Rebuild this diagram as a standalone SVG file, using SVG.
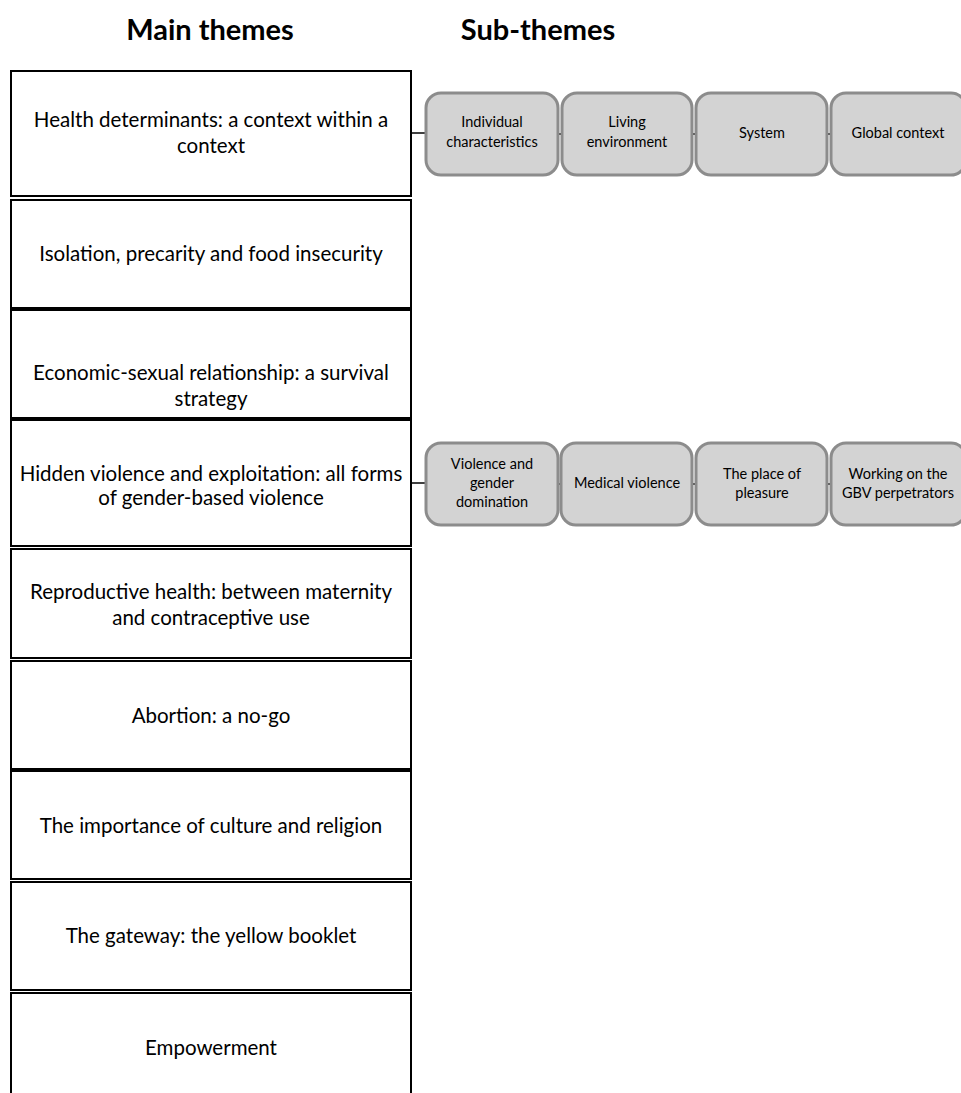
<svg xmlns="http://www.w3.org/2000/svg" width="961" height="1093" viewBox="0 0 961 1093">
<style>
.hdr{font-family:Lato,"Liberation Sans",sans-serif;font-weight:bold;font-size:29px;fill:#000;text-anchor:middle}
.main rect{fill:#fff;stroke:#000;stroke-width:2}
.main text{font-family:Lato,"Liberation Sans",sans-serif;font-size:20.5px;fill:#000;text-anchor:middle}
.sub rect{fill:#d3d3d3;stroke:#8c8c8c;stroke-width:3}
.sub text{font-family:Lato,"Liberation Sans",sans-serif;font-size:14.5px;fill:#000;text-anchor:middle}
.conn line{stroke:#000;stroke-width:1.5}
</style>
<rect width="961" height="1093" fill="#fff"/>
<text class="hdr" x="210" y="40">Main themes</text>
<text class="hdr" x="538" y="40">Sub-themes</text>

<g id="m1" class="main"><rect x="11" y="71" width="400" height="125"/><text x="211" y="127">Health determinants: a context within a</text><text x="211" y="153">context</text></g>
<g id="m2" class="main"><rect x="11" y="200" width="400" height="108"/><text x="211" y="261">Isolation, precarity and food insecurity</text></g>
<g id="m3" class="main"><rect x="11" y="310" width="400" height="108"/><text x="211" y="380">Economic-sexual relationship: a survival</text><text x="211" y="406">strategy</text></g>
<g id="m4" class="main"><rect x="11" y="420" width="400" height="126"/><text x="211" y="481">Hidden violence and exploitation: all forms</text><text x="211" y="505">of gender-based violence</text></g>
<g id="m5" class="main"><rect x="11" y="549" width="400" height="109"/><text x="211" y="599">Reproductive health: between maternity</text><text x="211" y="625">and contraceptive use</text></g>
<g id="m6" class="main"><rect x="11" y="661" width="400" height="108"/><text x="211" y="723">Abortion: a no-go</text></g>
<g id="m7" class="main"><rect x="11" y="771" width="400" height="108"/><text x="211" y="833">The importance of culture and religion</text></g>
<g id="m8" class="main"><rect x="11" y="882" width="400" height="108"/><text x="211" y="943">The gateway: the yellow booklet</text></g>
<g id="m9" class="main"><rect x="11" y="993" width="400" height="110"/><text x="211" y="1055">Empowerment</text></g>

<g id="connectors" class="conn">
<line x1="411" y1="133" x2="426" y2="133"/>
<line x1="558" y1="134" x2="562" y2="134"/>
<line x1="692" y1="134" x2="696" y2="134"/>
<line x1="827" y1="134" x2="831" y2="134"/>
<line x1="411" y1="483" x2="426" y2="483"/>
<line x1="558" y1="484" x2="561" y2="484"/>
<line x1="692" y1="484" x2="696" y2="484"/>
<line x1="827" y1="484" x2="831" y2="484"/>
</g>

<g id="s1" class="sub"><rect x="426" y="93" width="132" height="82" rx="15"/><text x="492" y="127">Individual</text><text x="492" y="147">characteristics</text></g>
<g id="s2" class="sub"><rect x="562" y="93" width="130" height="82" rx="15"/><text x="627" y="127">Living</text><text x="627" y="147">environment</text></g>
<g id="s3" class="sub"><rect x="696" y="93" width="131" height="82" rx="15"/><text x="762" y="138">System</text></g>
<g id="s4" class="sub"><rect x="831" y="93" width="135" height="82" rx="15"/><text x="898" y="138">Global context</text></g>

<g id="s5" class="sub"><rect x="426" y="443" width="132" height="82" rx="15"/><text x="492" y="469">Violence and</text><text x="492" y="488">gender</text><text x="492" y="507">domination</text></g>
<g id="s6" class="sub"><rect x="561" y="443" width="131" height="82" rx="15"/><text x="627" y="488">Medical violence</text></g>
<g id="s7" class="sub"><rect x="696" y="443" width="131" height="82" rx="15"/><text x="762" y="479">The place of</text><text x="762" y="498">pleasure</text></g>
<g id="s8" class="sub"><rect x="831" y="443" width="135" height="82" rx="15"/><text x="898" y="479">Working on the</text><text x="898" y="498">GBV perpetrators</text></g>
</svg>
